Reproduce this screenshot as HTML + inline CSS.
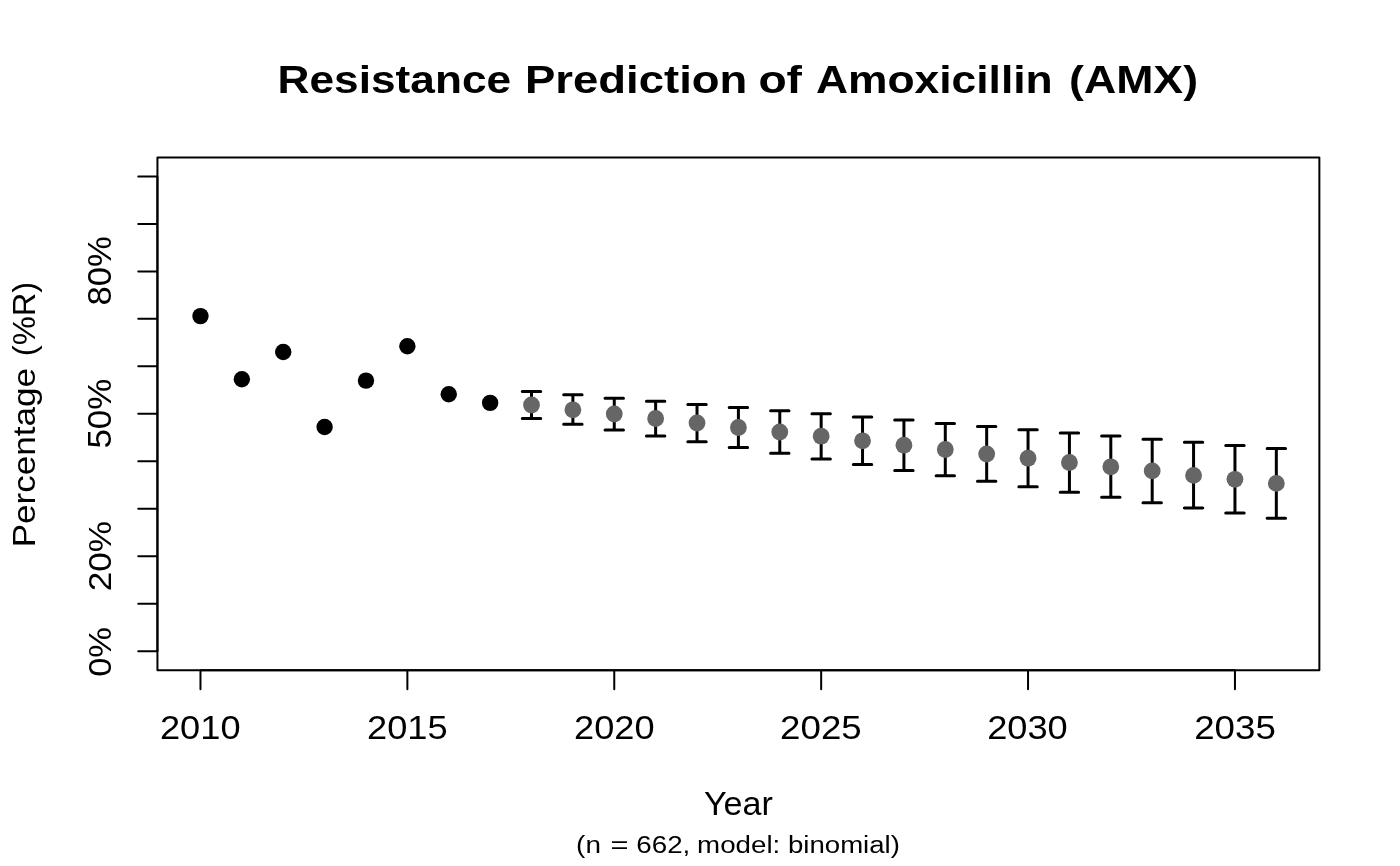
<!DOCTYPE html><html><head><meta charset="utf-8"><style>html,body{margin:0;padding:0;background:#fff;width:1400px;height:866px;overflow:hidden}svg{display:block;will-change:transform}text{font-family:"Liberation Sans",sans-serif;fill:#000}</style></head><body>
<svg width="1400" height="866" viewBox="0 0 1400 866">
<rect x="157.44" y="157.44" width="1161.92" height="512.72" fill="none" stroke="#000" stroke-width="2" stroke-linejoin="round"/>
<path d="M200.47 670.16V689.36 M407.37 670.16V689.36 M614.26 670.16V689.36 M821.16 670.16V689.36 M1028.05 670.16V689.36 M1234.95 670.16V689.36 M200.47 670.16H1234.95 M157.44 651.17H138.24 M157.44 603.70H138.24 M157.44 556.22H138.24 M157.44 508.75H138.24 M157.44 461.27H138.24 M157.44 413.80H138.24 M157.44 366.33H138.24 M157.44 318.85H138.24 M157.44 271.38H138.24 M157.44 223.90H138.24 M157.44 176.43H138.24 M157.44 651.17V176.43" stroke="#000" stroke-width="2" stroke-linecap="round" fill="none"/>
<text x="394.35" y="93.20" font-size="38.19" text-anchor="middle" textLength="233.50" lengthAdjust="spacingAndGlyphs" font-weight="bold">Resistance</text>
<text x="636.20" y="93.20" font-size="38.19" text-anchor="middle" textLength="222.40" lengthAdjust="spacingAndGlyphs" font-weight="bold">Prediction</text>
<text x="780.20" y="93.20" font-size="38.19" text-anchor="middle" textLength="43.60" lengthAdjust="spacingAndGlyphs" font-weight="bold">of</text>
<text x="934.30" y="93.20" font-size="38.19" text-anchor="middle" textLength="236.80" lengthAdjust="spacingAndGlyphs" font-weight="bold">Amoxicillin</text>
<text x="1133.55" y="93.20" font-size="38.19" text-anchor="middle" textLength="128.90" lengthAdjust="spacingAndGlyphs" font-weight="bold">(AMX)</text>
<text x="200.27" y="739.00" font-size="33.00" text-anchor="middle" textLength="80.60" lengthAdjust="spacingAndGlyphs">2010</text>
<text x="407.32" y="739.00" font-size="33.00" text-anchor="middle" textLength="80.60" lengthAdjust="spacingAndGlyphs">2015</text>
<text x="614.37" y="739.00" font-size="33.00" text-anchor="middle" textLength="80.60" lengthAdjust="spacingAndGlyphs">2020</text>
<text x="820.92" y="739.00" font-size="33.00" text-anchor="middle" textLength="81.60" lengthAdjust="spacingAndGlyphs">2025</text>
<text x="1027.47" y="739.00" font-size="33.00" text-anchor="middle" textLength="80.60" lengthAdjust="spacingAndGlyphs">2030</text>
<text x="1235.02" y="739.00" font-size="33.00" text-anchor="middle" textLength="81.60" lengthAdjust="spacingAndGlyphs">2035</text>
<text transform="translate(110.50,651.90) rotate(-90)" font-size="31.48" text-anchor="middle" textLength="49.80" lengthAdjust="spacingAndGlyphs">0%</text>
<text transform="translate(111.20,556.10) rotate(-90)" font-size="31.78" text-anchor="middle" textLength="70.20" lengthAdjust="spacingAndGlyphs">20%</text>
<text transform="translate(110.80,413.60) rotate(-90)" font-size="33.19" text-anchor="middle" textLength="70.00" lengthAdjust="spacingAndGlyphs">50%</text>
<text transform="translate(111.10,270.85) rotate(-90)" font-size="32.61" text-anchor="middle" textLength="69.50" lengthAdjust="spacingAndGlyphs">80%</text>
<text transform="translate(35.00,457.65) rotate(-90)" font-size="32.27" text-anchor="middle" textLength="179.30" lengthAdjust="spacingAndGlyphs">Percentage</text>
<text transform="translate(35.00,319.00) rotate(-90)" font-size="32.27" text-anchor="middle" textLength="74.40" lengthAdjust="spacingAndGlyphs">(%R)</text>
<text x="738.45" y="815.30" font-size="32.61" text-anchor="middle" textLength="68.90" lengthAdjust="spacingAndGlyphs">Year</text>
<text x="588.50" y="853.30" font-size="23.88" text-anchor="middle" textLength="24.80" lengthAdjust="spacingAndGlyphs">(n</text>
<text x="619.40" y="853.30" font-size="23.88" text-anchor="middle" textLength="18.00" lengthAdjust="spacingAndGlyphs">=</text>
<text x="663.30" y="853.30" font-size="23.88" text-anchor="middle" textLength="54.00" lengthAdjust="spacingAndGlyphs">662,</text>
<text x="738.70" y="853.30" font-size="23.88" text-anchor="middle" textLength="83.20" lengthAdjust="spacingAndGlyphs">model:</text>
<text x="843.95" y="853.30" font-size="23.88" text-anchor="middle" textLength="111.90" lengthAdjust="spacingAndGlyphs">binomial)</text>
<circle cx="200.47" cy="316.1" r="8.2" fill="#000"/>
<circle cx="241.85" cy="379.2" r="8.2" fill="#000"/>
<circle cx="283.23" cy="352.0" r="8.2" fill="#000"/>
<circle cx="324.61" cy="427.0" r="8.2" fill="#000"/>
<circle cx="365.99" cy="380.6" r="8.2" fill="#000"/>
<circle cx="407.37" cy="346.3" r="8.2" fill="#000"/>
<circle cx="448.75" cy="394.2" r="8.2" fill="#000"/>
<circle cx="490.13" cy="402.9" r="8.2" fill="#000"/>
<path d="M531.51 391.5V418.5 M522.31 391.5H540.71 M522.31 418.5H540.71 M572.88 394.7V424.3 M563.68 394.7H582.08 M563.68 424.3H582.08 M614.26 398.2V430.0 M605.06 398.2H623.46 M605.06 430.0H623.46 M655.64 401.3V436.0 M646.44 401.3H664.84 M646.44 436.0H664.84 M697.02 404.5V441.7 M687.82 404.5H706.22 M687.82 441.7H706.22 M738.40 407.5V447.5 M729.20 407.5H747.60 M729.20 447.5H747.60 M779.78 410.7V453.2 M770.58 410.7H788.98 M770.58 453.2H788.98 M821.16 413.8V459.0 M811.96 413.8H830.36 M811.96 459.0H830.36 M862.54 417.0V464.5 M853.34 417.0H871.74 M853.34 464.5H871.74 M903.92 420.1V470.4 M894.72 420.1H913.12 M894.72 470.4H913.12 M945.29 423.4V475.8 M936.09 423.4H954.49 M936.09 475.8H954.49 M986.67 426.6V481.3 M977.47 426.6H995.87 M977.47 481.3H995.87 M1028.05 429.7V486.7 M1018.85 429.7H1037.25 M1018.85 486.7H1037.25 M1069.43 432.9V492.3 M1060.23 432.9H1078.63 M1060.23 492.3H1078.63 M1110.81 436.1V497.3 M1101.61 436.1H1120.01 M1101.61 497.3H1120.01 M1152.19 439.3V502.7 M1142.99 439.3H1161.39 M1142.99 502.7H1161.39 M1193.57 442.3V507.9 M1184.37 442.3H1202.77 M1184.37 507.9H1202.77 M1234.95 445.5V512.9 M1225.75 445.5H1244.15 M1225.75 512.9H1244.15 M1276.33 448.6V518.2 M1267.13 448.6H1285.53 M1267.13 518.2H1285.53" stroke="#000" stroke-width="3" stroke-linecap="round" fill="none"/>
<circle cx="531.51" cy="405.0" r="8.4" fill="#666666"/>
<circle cx="572.88" cy="409.8" r="8.4" fill="#666666"/>
<circle cx="614.26" cy="414.0" r="8.4" fill="#666666"/>
<circle cx="655.64" cy="418.5" r="8.4" fill="#666666"/>
<circle cx="697.02" cy="423.0" r="8.4" fill="#666666"/>
<circle cx="738.40" cy="427.5" r="8.4" fill="#666666"/>
<circle cx="779.78" cy="432.0" r="8.4" fill="#666666"/>
<circle cx="821.16" cy="436.2" r="8.4" fill="#666666"/>
<circle cx="862.54" cy="440.8" r="8.4" fill="#666666"/>
<circle cx="903.92" cy="445.2" r="8.4" fill="#666666"/>
<circle cx="945.29" cy="449.5" r="8.4" fill="#666666"/>
<circle cx="986.67" cy="454.0" r="8.4" fill="#666666"/>
<circle cx="1028.05" cy="458.2" r="8.4" fill="#666666"/>
<circle cx="1069.43" cy="462.5" r="8.4" fill="#666666"/>
<circle cx="1110.81" cy="466.8" r="8.4" fill="#666666"/>
<circle cx="1152.19" cy="470.9" r="8.4" fill="#666666"/>
<circle cx="1193.57" cy="475.4" r="8.4" fill="#666666"/>
<circle cx="1234.95" cy="479.3" r="8.4" fill="#666666"/>
<circle cx="1276.33" cy="483.4" r="8.4" fill="#666666"/>
</svg></body></html>
